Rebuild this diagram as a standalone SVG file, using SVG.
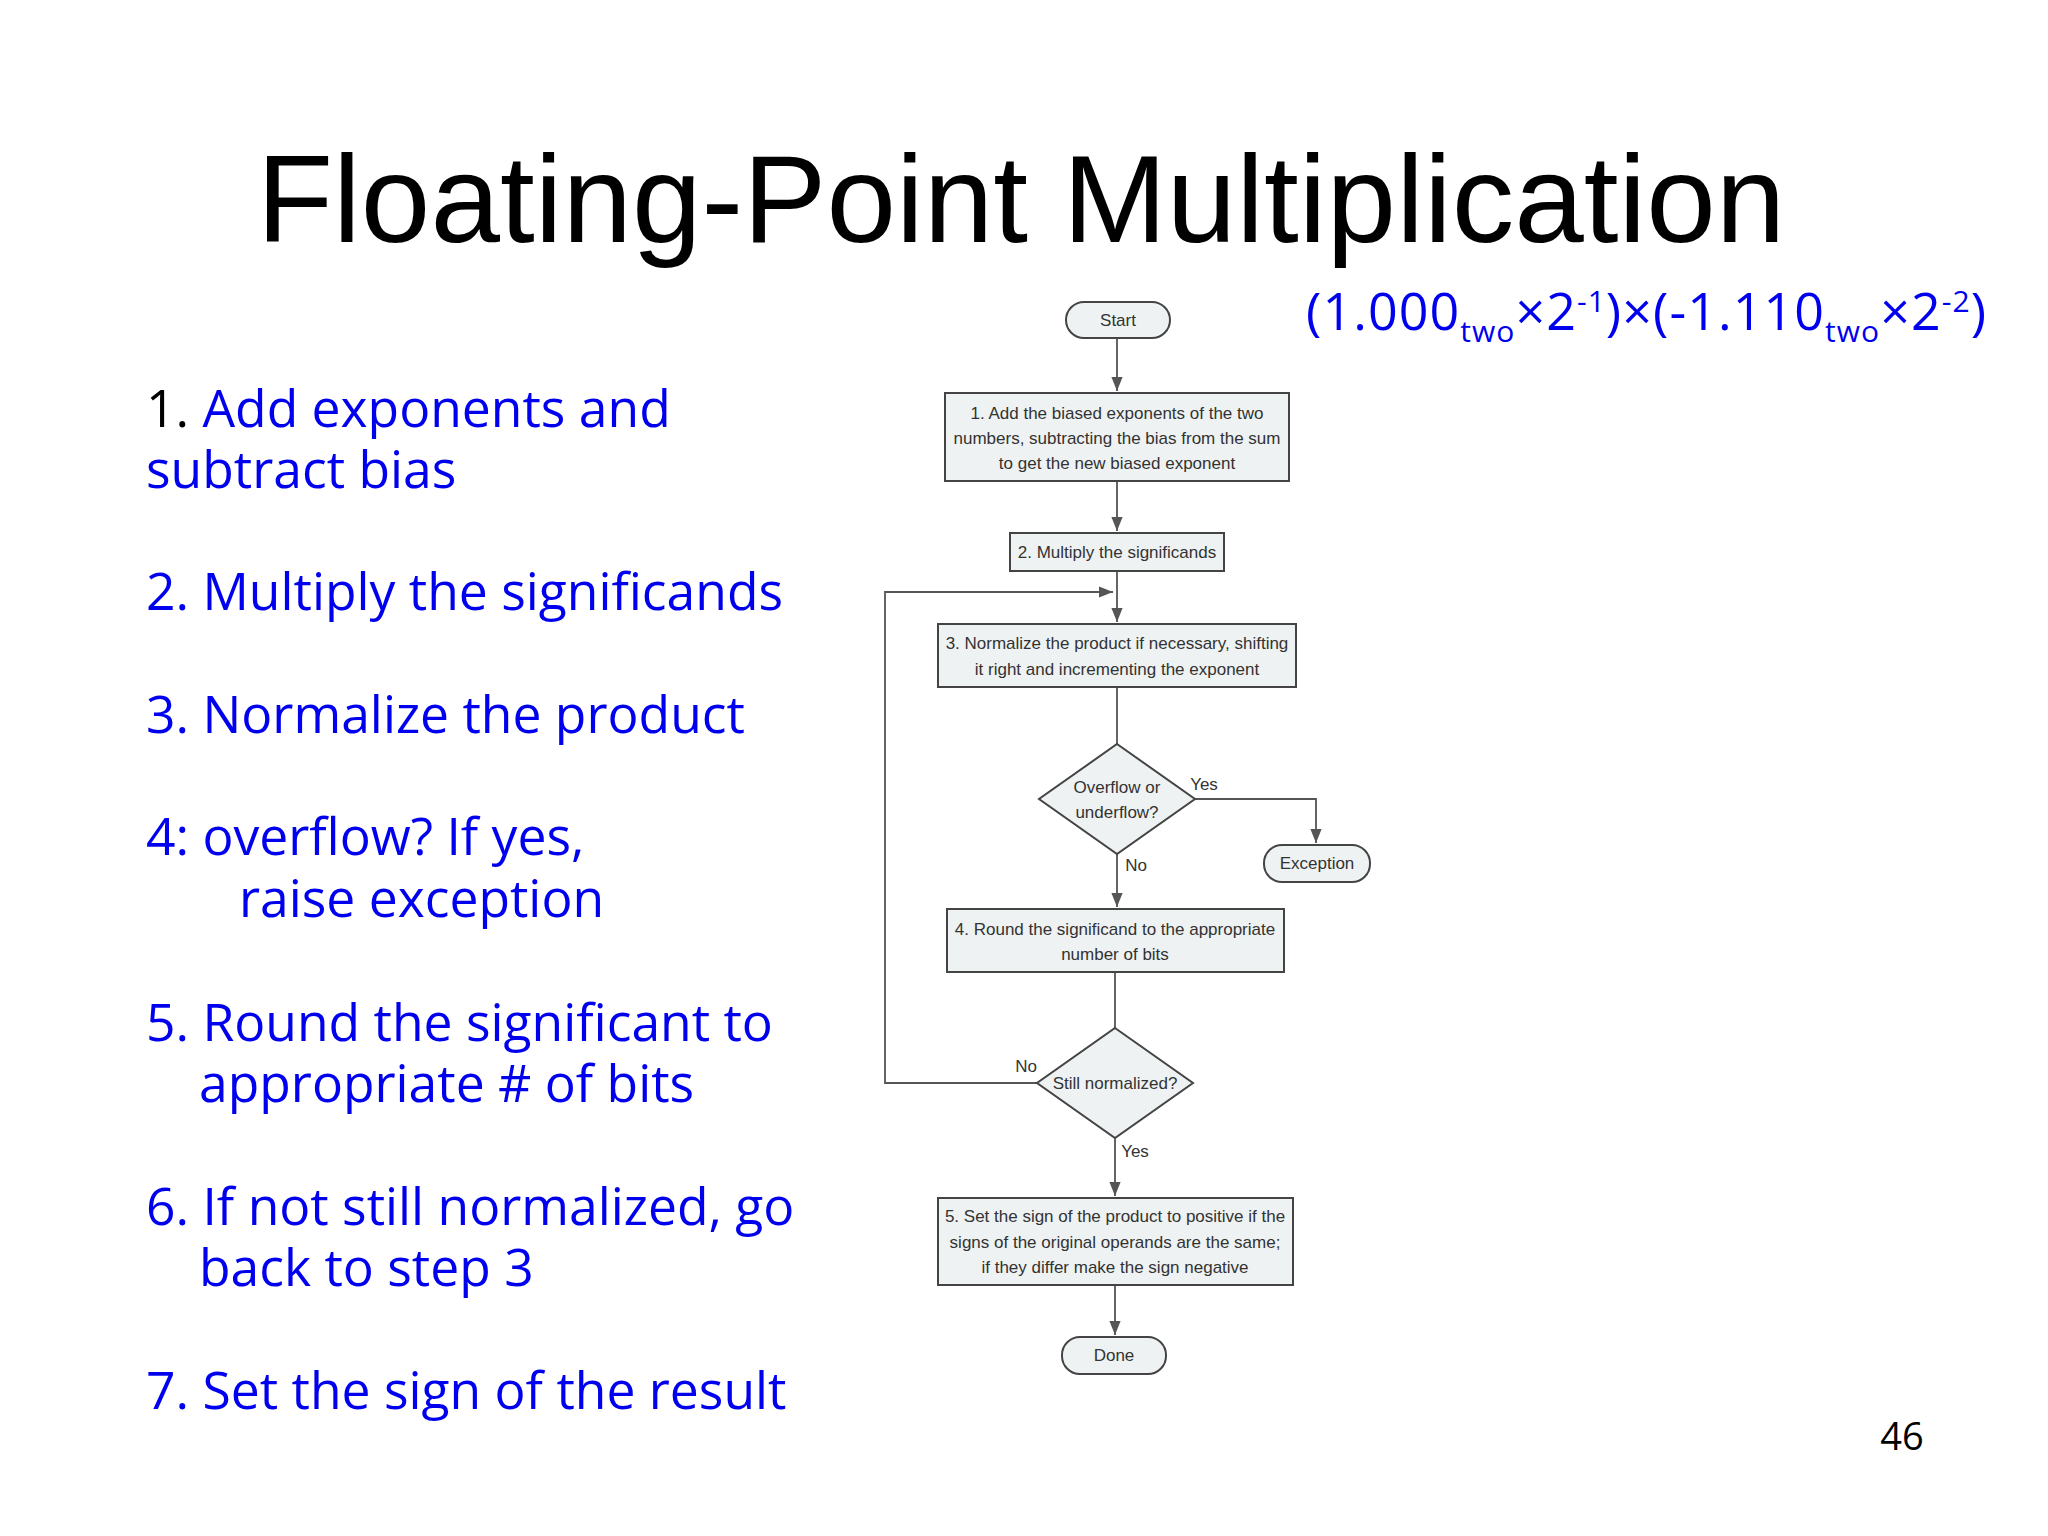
<svg xmlns="http://www.w3.org/2000/svg" width="2048" height="1536" viewBox="0 0 2048 1536">
<style>
.l{font-family:"Open Sans","Noto Sans",sans-serif;font-size:51.6px;fill:#0000ee}
.b{fill:#eef2f2;stroke:#444;stroke-width:2}
.t{font-family:"Liberation Sans",Arial,sans-serif;font-size:17px;fill:#333;text-anchor:middle}
.c{fill:none;stroke:#555;stroke-width:1.8}
</style>
<defs><marker id="a" viewBox="0 0 10 10" refX="10" refY="5" markerWidth="8" markerHeight="8" orient="auto"><path d="M0,1 L10,5 L0,9 z" fill="#555"/></marker></defs>
<rect width="2048" height="1536" fill="#fff"/>
<text x="1021" y="242" font-family="Liberation Sans,Arial,sans-serif" font-size="125" text-anchor="middle" fill="#000">Floating-Point Multiplication</text>
<text x="1306" y="330" font-family="Open Sans,Noto Sans,sans-serif" font-size="52" fill="#0000ee" textLength="680">(1.000<tspan font-size="30" dy="12">two</tspan><tspan dy="-12">×2</tspan><tspan font-size="30" dy="-18">-1</tspan><tspan dy="18">)×(-1.110</tspan><tspan font-size="30" dy="12">two</tspan><tspan dy="-12">×2</tspan><tspan font-size="30" dy="-18">-2</tspan><tspan dy="18">)</tspan></text>
<g id="list">
<text class="l" x="146" y="427"><tspan fill="#000">1.</tspan> Add exponents and</text>
<text class="l" x="146" y="488">subtract bias</text>
<text class="l" x="146" y="610">2. Multiply the significands</text>
<text class="l" x="146" y="733">3. Normalize the product</text>
<text class="l" x="146" y="855">4: overflow? If yes,</text>
<text class="l" x="239" y="917">raise exception</text>
<text class="l" x="146" y="1041">5. Round the significant to</text>
<text class="l" x="199" y="1102">appropriate # of bits</text>
<text class="l" x="146" y="1225">6. If not still normalized, go</text>
<text class="l" x="199" y="1286">back to step 3</text>
<text class="l" x="146" y="1409">7. Set the sign of the result</text>
</g>
<text x="1902" y="1450" font-family="Open Sans,Noto Sans,sans-serif" font-size="38" text-anchor="middle" fill="#000">46</text>
<g id="connectors">
<line class="c" x1="1117" y1="338" x2="1117" y2="391" marker-end="url(#a)"/>
<line class="c" x1="1117" y1="481" x2="1117" y2="531" marker-end="url(#a)"/>
<line class="c" x1="1117" y1="571" x2="1117" y2="622" marker-end="url(#a)"/>
<polyline class="c" points="1037,1083 885,1083 885,592 1113,592" marker-end="url(#a)"/>
<line class="c" x1="1117" y1="687" x2="1117" y2="744"/>
<polyline class="c" points="1195,799 1316,799 1316,843" marker-end="url(#a)"/>
<line class="c" x1="1117" y1="854" x2="1117" y2="907" marker-end="url(#a)"/>
<line class="c" x1="1115" y1="972" x2="1115" y2="1028"/>
<line class="c" x1="1115" y1="1138" x2="1115" y2="1196" marker-end="url(#a)"/>
<line class="c" x1="1115" y1="1285" x2="1115" y2="1335" marker-end="url(#a)"/>
<text class="t" x="1204" y="790">Yes</text>
<text class="t" x="1136" y="871">No</text>
<text class="t" x="1026" y="1072">No</text>
<text class="t" x="1135" y="1157">Yes</text>
</g>
<g id="start"><rect class="b" x="1066" y="302" width="104" height="36" rx="18" fill="#f4f6f6"/><text class="t" x="1118" y="326">Start</text></g>
<g id="step1"><rect class="b" x="945" y="393" width="344" height="88"/><text class="t" x="1117" y="419">1.  Add the biased exponents of the two</text><text class="t" x="1117" y="444">numbers, subtracting the bias from the sum</text><text class="t" x="1117" y="469">to get the new biased exponent</text></g>
<g id="step2"><rect class="b" x="1010" y="533" width="214" height="38"/><text class="t" x="1117" y="558">2. Multiply the significands</text></g>
<g id="step3"><rect class="b" x="938" y="624" width="358" height="63"/><text class="t" x="1117" y="649">3. Normalize the product if necessary, shifting</text><text class="t" x="1117" y="675">it right and incrementing the exponent</text></g>
<g id="d1"><polygon class="b" points="1117,744 1195,799 1117,854 1039,799"/><text class="t" x="1117" y="793">Overflow or</text><text class="t" x="1117" y="818">underflow?</text></g>
<g id="exc"><rect class="b" x="1264" y="845" width="106" height="37" rx="18" fill="#f4f6f6"/><text class="t" x="1317" y="869">Exception</text></g>
<g id="step4"><rect class="b" x="947" y="909" width="337" height="63"/><text class="t" x="1115" y="935">4. Round the significand to the appropriate</text><text class="t" x="1115" y="960">number of bits</text></g>
<g id="d2"><polygon class="b" points="1115,1028 1193,1083 1115,1138 1037,1083"/><text class="t" x="1115" y="1089">Still normalized?</text></g>
<g id="step5"><rect class="b" x="938" y="1198" width="355" height="87"/><text class="t" x="1115" y="1222">5. Set the sign of the product to positive if the</text><text class="t" x="1115" y="1248">signs of the original operands are the same;</text><text class="t" x="1115" y="1273">if they differ make the sign negative</text></g>
<g id="done"><rect class="b" x="1062" y="1337" width="104" height="37" rx="18" fill="#f4f6f6"/><text class="t" x="1114" y="1361">Done</text></g>
</svg>
